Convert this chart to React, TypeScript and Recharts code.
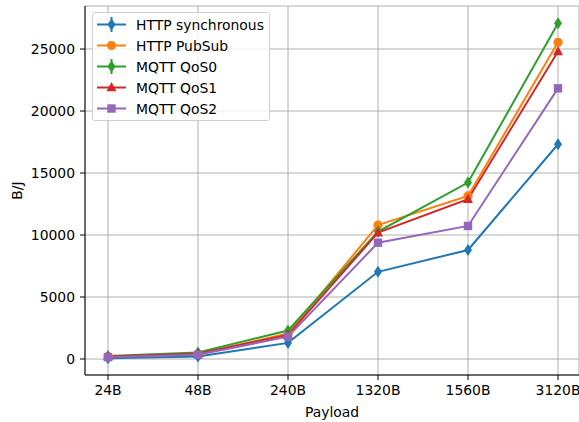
import React from "react";
import {
  LineChart,
  Line,
  XAxis,
  YAxis,
  CartesianGrid,
  Legend,
} from "recharts";

const payloads = ["24B", "48B", "240B", "1320B", "1560B", "3120B"];
const httpSync = [60, 200, 1300, 7030, 8790, 17320];
const httpPubSub = [200, 400, 2050, 10800, 13150, 25540];
const mqttQos0 = [250, 520, 2300, 10280, 14230, 27080];
const mqttQos1 = [200, 420, 1950, 10190, 12880, 24800];
const mqttQos2 = [150, 340, 1800, 9380, 10730, 21830];
const yTicks = [0, 5000, 10000, 15000, 20000, 25000];

const data = payloads.map((p, i) => ({
  payload: p,
  httpSync: httpSync[i],
  httpPubSub: httpPubSub[i],
  mqttQos0: mqttQos0[i],
  mqttQos1: mqttQos1[i],
  mqttQos2: mqttQos2[i],
}));

type Shape = "thinDiamond" | "circle" | "triangle" | "square";

const series: { key: string; name: string; color: string; shape: Shape }[] = [
  { key: "httpSync", name: "HTTP synchronous", color: "#1f77b4", shape: "thinDiamond" },
  { key: "httpPubSub", name: "HTTP PubSub", color: "#ff7f0e", shape: "circle" },
  { key: "mqttQos0", name: "MQTT QoS0", color: "#2ca02c", shape: "thinDiamond" },
  { key: "mqttQos1", name: "MQTT QoS1", color: "#d62728", shape: "triangle" },
  { key: "mqttQos2", name: "MQTT QoS2", color: "#9467bd", shape: "square" },
];

const FONT = "'DejaVu Sans', sans-serif";
const FS = 13.9;

function Marker({ cx, cy, color, shape }: { cx: number; cy: number; color: string; shape: Shape }) {
  if (cx == null || cy == null) return null;
  if (shape === "circle") return <circle cx={cx} cy={cy} r={4.6} fill={color} />;
  if (shape === "square")
    return <rect x={cx - 4.2} y={cy - 4.2} width={8.4} height={8.4} fill={color} />;
  if (shape === "triangle")
    return (
      <polygon
        points={`${cx},${cy - 5.5} ${cx + 5},${cy + 3.8} ${cx - 5},${cy + 3.8}`}
        fill={color}
      />
    );
  return (
    <polygon
      points={`${cx},${cy - 6} ${cx + 4},${cy} ${cx},${cy + 6} ${cx - 4},${cy}`}
      fill={color}
    />
  );
}

function LegendBox() {
  return (
    <div
      style={{
        background: "rgba(255,255,255,0.8)",
        border: "1px solid #d0d0d0",
        borderRadius: 3,
        padding: "1px 0",
        width: 176,
        fontFamily: FONT,
        fontSize: FS,
        color: "#000",
      }}
    >
      {series.map((s) => (
        <div key={s.key} style={{ display: "flex", alignItems: "center", height: 21 }}>
          <svg width={39} height={21} style={{ marginLeft: 4 }}>
            <line x1={0} y1={10.5} x2={29} y2={10.5} stroke={s.color} strokeWidth={2} />
            {s.shape === "thinDiamond" && (
              <line x1={14.5} y1={3} x2={14.5} y2={18} stroke={s.color} strokeWidth={2} />
            )}
            <Marker cx={14.5} cy={10.5} color={s.color} shape={s.shape} />
          </svg>
          <span style={{ whiteSpace: "nowrap" }}>{s.name}</span>
        </div>
      ))}
    </div>
  );
}

export default function App() {
  return (
    <div style={{ position: "absolute", left: 0, top: 0, background: "#fff" }}>
      <LineChart
        width={579}
        height={422}
        data={data}
        margin={{ top: 6, right: 0, left: 0, bottom: 0 }}
      >
        <CartesianGrid stroke="#b0b0b0" strokeWidth={1} />
        <XAxis
          dataKey="payload"
          scale="point"
          padding={{ left: 23, right: 21 }}
          height={47}
          stroke="#000"
          tickSize={5}
          tickMargin={5}
          tick={{ fill: "#000", fontSize: FS, fontFamily: FONT }}
          interval={0}
          label={{
            value: "Payload",
            position: "insideBottom",
            offset: 5,
            style: { fill: "#000", fontSize: FS, fontFamily: FONT },
          }}
        />
        <XAxis
          xAxisId="top"
          dataKey="payload"
          orientation="top"
          height={0}
          tick={false}
          tickLine={false}
          stroke="#000"
        />
        <YAxis
          width={85}
          domain={[-1290, 28470]}
          ticks={yTicks}
          allowDataOverflow
          stroke="#000"
          tickSize={5}
          tickMargin={5}
          tick={{ fill: "#000", fontSize: FS, fontFamily: FONT }}
          label={{
            value: "B/J",
            angle: -90,
            position: "insideLeft",
            offset: 17,
            style: { fill: "#000", fontSize: FS, fontFamily: FONT, textAnchor: "middle" },
          }}
        />
        <Legend
          layout="horizontal"
          verticalAlign="middle"
          align="center"
          wrapperStyle={{ left: 92, top: 12, width: 178 }}
          content={() => <LegendBox />}
        />
        {series.map((s) => (
          <Line
            key={s.key}
            dataKey={s.key}
            name={s.name}
            stroke={s.color}
            strokeWidth={2}
            isAnimationActive={false}
            dot={(p: any) => (
              <Marker key={`${s.key}-${p.index}`} cx={p.cx} cy={p.cy} color={s.color} shape={s.shape} />
            )}
            activeDot={false}
          />
        ))}
      </LineChart>
    </div>
  );
}
